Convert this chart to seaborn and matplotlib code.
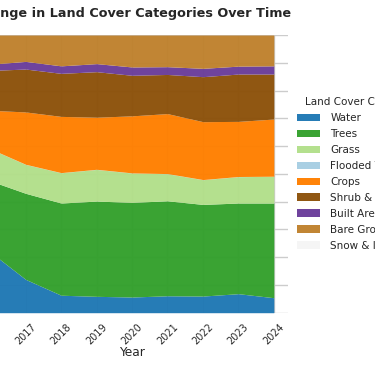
import matplotlib
matplotlib.use("Agg")
import matplotlib.pyplot as plt
import seaborn as sns
import pandas as pd

years = [2016, 2017, 2018, 2019, 2020, 2021, 2022, 2023, 2024]
categories = ["Water", "Trees", "Grass", "Flooded Vegetation", "Crops",
              "Shrub & Scrub", "Built Area", "Bare Ground", "Snow & Ice"]
water   = [21.9, 12.0, 6.3, 5.9, 5.65, 6.1, 6.0, 6.85, 5.4]
trees   = [25.6, 31.0, 33.2, 34.3, 34.1, 34.2, 33.0, 32.65, 34.1]
grass   = [11.5, 10.4, 10.9, 11.4, 10.55, 9.75, 8.9, 9.5, 9.6]
flooded = [0.05, 0.05, 0.05, 0.05, 0.05, 0.05, 0.05, 0.05, 0.05]
crops   = [13.85, 18.85, 20.25, 18.75, 20.55, 21.6, 20.85, 19.85, 20.6]
shrub   = [14.35, 15.45, 15.5, 16.4, 14.6, 14.1, 16.2, 17.05, 16.2]
built   = [2.25, 2.75, 2.7, 2.9, 3.0, 2.8, 3.0, 2.85, 2.95]
bare    = [10.5, 9.5, 11.1, 10.3, 11.5, 11.4, 12.0, 11.2, 11.1]
snow    = [0.0, 0.0, 0.0, 0.0, 0.0, 0.0, 0.0, 0.0, 0.0]
colors = ["#1f78b4", "#33a02c", "#b2df8a", "#a6cee3", "#ff7f00",
          "#8c510a", "#6a3d9a", "#bf812d", "#f5f5f5"]

df = pd.DataFrame({"Year": years, "Water": water, "Trees": trees, "Grass": grass,
                   "Flooded Vegetation": flooded, "Crops": crops,
                   "Shrub & Scrub": shrub, "Built Area": built,
                   "Bare Ground": bare, "Snow & Ice": snow})
# normalise to percentages
tot = df[categories].sum(axis=1)
for c in categories:
    df[c] = df[c] / tot * 100

sns.set_theme(style="whitegrid")
plt.rcParams['font.family'] = ['DejaVu Sans']

fig = plt.figure(figsize=(3.75, 3.66), dpi=100)
ax = fig.add_axes([-0.064, 0.1456, 0.832, 0.7587])
ax.stackplot(df["Year"], [df[c] for c in categories], labels=categories,
             colors=sns.color_palette(colors), alpha=0.97, linewidth=0)
ax.set_ylim(0, 100)
ax.set_yticks(range(0, 101, 10))
ax.set_xticks(years)
ax.set_xticklabels([str(y) for y in years], rotation=45, fontsize=7.0)
ax.tick_params(axis='x', pad=0.5)
ax.tick_params(axis='y', labelsize=7.0)
ax.set_xlabel("Year", fontsize=8.8, labelpad=0)
ax.set_ylabel("Percentage (%)", fontsize=8.8)
ax.set_title("Change in Land Cover Categories Over Time", fontsize=9.2,
             fontweight="bold", pad=13)
sns.despine(ax=ax, left=True, bottom=True)
ax.legend(title="Land Cover Categories", loc="center left",
          bbox_to_anchor=(1.0, 0.5), frameon=False, fontsize=7.5,
          title_fontsize=7.5, labelspacing=0.57, handlelength=2.2,
          handletextpad=0.95)
fig.savefig("out.png", dpi=100)
